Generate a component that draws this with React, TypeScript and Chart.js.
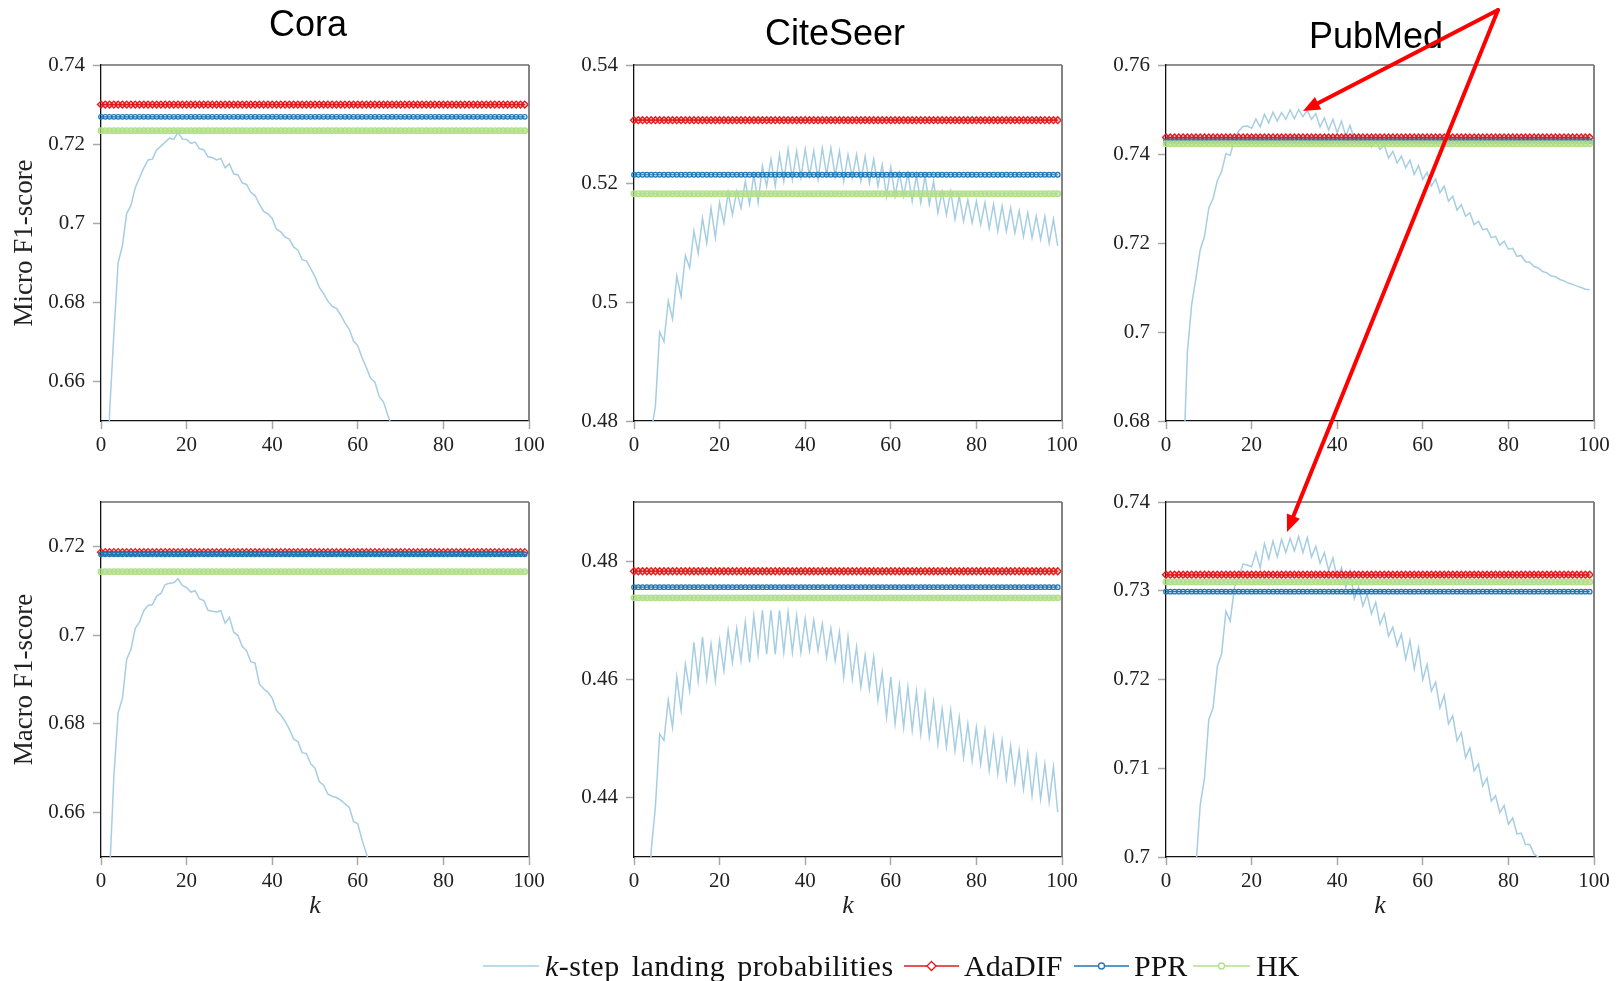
import React, { useEffect, useRef } from "react";
import { Chart, registerables } from "chart.js";

Chart.register(...registerables);

// ---------------- data ----------------
const K_STEPS: number[] = Array.from({ length: 100 }, (_, i) => i); // k = 0..99
const X_TICKS = [0, 20, 40, 60, 80, 100];

const DATASET_NAMES = ["Cora", "CiteSeer", "PubMed"];
const METRIC_NAMES = ["Micro F1-score", "Macro F1-score"];
const X_TITLE = "k";
const LEGEND_LABELS = ["-step landing probabilities", "AdaDIF", "PPR", "HK"];

const Y_RANGE_MICRO = [[0.65, 0.74], [0.48, 0.54], [0.68, 0.76]];
const Y_RANGE_MACRO = [[0.65, 0.73], [0.43, 0.49], [0.70, 0.74]];
const Y_TICKS_MICRO = [
  [0.66, 0.68, 0.70, 0.72, 0.74],
  [0.48, 0.50, 0.52, 0.54],
  [0.68, 0.70, 0.72, 0.74, 0.76],
];
const Y_TICKS_MACRO = [
  [0.66, 0.68, 0.70, 0.72],
  [0.44, 0.46, 0.48],
  [0.70, 0.71, 0.72, 0.73, 0.74],
];

// constant baselines (Cora, CiteSeer, PubMed)
const ADADIF_MICRO = [0.7300, 0.5307, 0.7437];
const PPR_MICRO = [0.7269, 0.5215, 0.7429];
const HK_MICRO = [0.7234, 0.5183, 0.7423];
const ADADIF_MACRO = [0.7187, 0.4783, 0.7318];
const PPR_MACRO = [0.7182, 0.4756, 0.7299];
const HK_MACRO = [0.7143, 0.4738, 0.7310];

// k-step landing probabilities, index = k
const CORA_MICRO = [
  null, 0.60, 0.652, 0.672, 0.690, 0.6943, 0.7025, 0.7045, 0.709, 0.7115,
  0.714, 0.716, 0.7162, 0.7185, 0.7195, 0.7205, 0.7215, 0.7212, 0.723, 0.7213,
  0.7212, 0.7202, 0.7205, 0.7188, 0.7186, 0.7168, 0.7166, 0.716, 0.7164, 0.714,
  0.715, 0.7125, 0.7122, 0.7102, 0.7098, 0.7078, 0.707, 0.7048, 0.703, 0.7024,
  0.7012, 0.6985, 0.6978, 0.6965, 0.696, 0.694, 0.6932, 0.6908, 0.6905, 0.6885,
  0.6865, 0.6838, 0.6822, 0.6803, 0.679, 0.6785, 0.6768, 0.6748, 0.6732, 0.6702,
  0.669, 0.666, 0.6635, 0.6608, 0.6598, 0.6562, 0.6548, 0.6515, 0.6485, 0.646,
];
const CITESEER_MICRO = [
  null, null, null, 0.455, 0.478, 0.4825, 0.495, 0.4934, 0.5002, 0.4972,
  0.5044, 0.501, 0.5079, 0.5058, 0.512, 0.5083, 0.5142, 0.510, 0.5159, 0.5109,
  0.5168, 0.5134, 0.5185, 0.5148, 0.5187, 0.5159, 0.5204, 0.5165, 0.5215, 0.5168,
  0.523, 0.5196, 0.5241, 0.5196, 0.5249, 0.5204, 0.5258, 0.5207, 0.5255, 0.521,
  0.5258, 0.5213, 0.5255, 0.5207, 0.526, 0.5215, 0.526, 0.5213, 0.5255, 0.5204,
  0.5249, 0.521, 0.5249, 0.5204, 0.5246, 0.5201, 0.5241, 0.5196, 0.5232, 0.5179,
  0.5228, 0.5179, 0.5218, 0.5179, 0.5218, 0.517, 0.5214, 0.5168, 0.5213, 0.5165,
  0.5204, 0.5151, 0.5187, 0.5148, 0.5187, 0.514, 0.5179, 0.5137, 0.5173, 0.5134,
  0.517, 0.5131, 0.5168, 0.5125, 0.5165, 0.512, 0.5162, 0.512, 0.5159, 0.5117,
  0.5154, 0.5111, 0.5151, 0.5109, 0.5145, 0.5106, 0.5145, 0.510, 0.514, 0.5095,
];
const PUBMED_MICRO = [
  null, null, null, 0.63, 0.668, 0.6955, 0.7062, 0.7121, 0.7185, 0.7215,
  0.7279, 0.730, 0.734, 0.7361, 0.7401, 0.7397, 0.7433, 0.7452, 0.7462, 0.7463,
  0.7458, 0.7479, 0.7461, 0.7489, 0.747, 0.7494, 0.7474, 0.7493, 0.7478, 0.7499,
  0.7479, 0.750, 0.7484, 0.7498, 0.7478, 0.7491, 0.7461, 0.7481, 0.7454, 0.7478,
  0.7448, 0.7474, 0.744, 0.7464, 0.7433, 0.7444, 0.7428, 0.7433, 0.7416, 0.7429,
  0.741, 0.742, 0.7391, 0.7406, 0.738, 0.7395, 0.7369, 0.7386, 0.7354, 0.7374,
  0.7343, 0.7359, 0.7328, 0.7344, 0.7313, 0.7328, 0.7294, 0.7305, 0.7274, 0.7286,
  0.726, 0.7268, 0.7241, 0.7249, 0.723, 0.7232, 0.7212, 0.7215, 0.7195, 0.7204,
  0.7186, 0.7188, 0.717, 0.7172, 0.7158, 0.7157, 0.7147, 0.7144, 0.7136, 0.7133,
  0.7126, 0.7124, 0.7118, 0.7115, 0.711, 0.7107, 0.7103, 0.710, 0.7096, 0.7095,
];
const CORA_MACRO = [
  null, 0.58, 0.646, 0.668, 0.6825, 0.6857, 0.6945, 0.6968, 0.7015, 0.703,
  0.7055, 0.7067, 0.7069, 0.7088, 0.7094, 0.7114, 0.7117, 0.7118, 0.7127, 0.7112,
  0.7107, 0.7097, 0.710, 0.7082, 0.7078, 0.7056, 0.7054, 0.7052, 0.7055, 0.7027,
  0.704, 0.7007, 0.6999, 0.6975, 0.6965, 0.694, 0.6937, 0.689, 0.6879, 0.6871,
  0.6858, 0.683, 0.682, 0.6806, 0.6788, 0.6766, 0.676, 0.6735, 0.6733, 0.671,
  0.670, 0.667, 0.6662, 0.6642, 0.6637, 0.6634, 0.6628, 0.662, 0.6612, 0.658,
  0.6575, 0.6538, 0.6508, 0.6475, 0.645,
];
const CITESEER_MACRO = [
  null, null, null, 0.41, 0.431, 0.4385, 0.4508, 0.4497, 0.4565, 0.4519,
  0.4604, 0.4548, 0.4626, 0.4581, 0.4663, 0.4598, 0.4672, 0.4601, 0.466, 0.4598,
  0.4666, 0.4615, 0.4683, 0.4629, 0.4686, 0.4632, 0.4697, 0.4629, 0.4708, 0.4643,
  0.4717, 0.4643, 0.4717, 0.4643, 0.4717, 0.4646, 0.4714, 0.4646, 0.4708, 0.4646,
  0.4703, 0.4649, 0.470, 0.4649, 0.4694, 0.4638, 0.4686, 0.4632, 0.468, 0.4604,
  0.4672, 0.4601, 0.4655, 0.4587, 0.4641, 0.4584, 0.4638, 0.4565, 0.4612, 0.4536,
  0.4604, 0.4525, 0.459, 0.4519, 0.4587, 0.4514, 0.4579, 0.4508, 0.4576, 0.4503,
  0.4562, 0.4491, 0.455, 0.4486, 0.4548, 0.448, 0.4536, 0.4469, 0.4525, 0.4463,
  0.4519, 0.4457, 0.4514, 0.4446, 0.4503, 0.4441, 0.4497, 0.4432, 0.4488, 0.4426,
  0.448, 0.4415, 0.4474, 0.4404, 0.4469, 0.4398, 0.4457, 0.4393, 0.4452, 0.4376,
];
const PUBMED_MACRO = [
  null, null, null, null, null, null, 0.68, 0.699, 0.7059, 0.7089,
  0.7155, 0.7168, 0.7215, 0.7229, 0.7277, 0.7266, 0.7304, 0.7315, 0.733, 0.7329,
  0.7327, 0.7343, 0.7326, 0.7353, 0.7336, 0.7356, 0.7338, 0.7358, 0.7343, 0.7359,
  0.7345, 0.7361, 0.7343, 0.736, 0.7338, 0.735, 0.7331, 0.7343, 0.7323, 0.7337,
  0.7313, 0.7326, 0.7304, 0.7322, 0.7291, 0.7304, 0.7283, 0.7296, 0.7274, 0.7287,
  0.7262, 0.7274, 0.7249, 0.7259, 0.7238, 0.7251, 0.7223, 0.7244, 0.7212, 0.7236,
  0.720, 0.7217, 0.7187, 0.7197, 0.7168, 0.7182, 0.715, 0.7159, 0.7131, 0.714,
  0.7112, 0.7123, 0.7097, 0.7105, 0.708, 0.7089, 0.7063, 0.7069, 0.705, 0.7058,
  0.7037, 0.7044, 0.7026, 0.7027, 0.7014, 0.7014, 0.7003, 0.700, 0.6995, 0.699,
];

const KSTEP_MICRO = [CORA_MICRO, CITESEER_MICRO, PUBMED_MICRO];
const KSTEP_MACRO = [CORA_MACRO, CITESEER_MACRO, PUBMED_MACRO];

// ---------------- styling / layout ----------------
const LIGHT_BLUE = "#a6cee3";
const RED = "#e31a1c";
const BLUE = "#1f78b4";
const GREEN = "#b2df8a";
const ARROW_RED = "#ff0000";
const SERIF = "'Liberation Serif', 'Times New Roman', serif";
const SANS = "'Liberation Sans', Arial, sans-serif";

const PLOT_LEFT = [101, 634, 1166];
const PLOT_W = 428;
const PLOT_TOP = [65, 502];
const PLOT_H = [356, 355];
const AXIS_W = 101;
const PAD_T = 30;
const PAD_R = 30;
const XAXIS_H = 65;

const framePlugin = {
  id: "frame",
  afterDraw(chart: any) {
    const { ctx, chartArea } = chart;
    const { left, top, right, bottom } = chartArea;
    ctx.save();
    ctx.strokeStyle = "#222";
    ctx.lineWidth = 1.2;
    ctx.beginPath();
    ctx.moveTo(left, top);
    ctx.lineTo(right, top);
    ctx.stroke();
    ctx.strokeStyle = "#777";
    ctx.lineWidth = 1.8;
    ctx.beginPath();
    ctx.moveTo(right, top);
    ctx.lineTo(right, bottom);
    ctx.stroke();
    ctx.restore();
  },
};

function fmt(v: number) {
  return String(Math.round(v * 100) / 100);
}

function flatSeries(
  value: number,
  color: string,
  fill: string,
  style: string,
  radius: number,
  pbw: number,
  order: number
) {
  return {
    data: K_STEPS.map((k) => ({ x: k, y: value })),
    borderColor: color,
    borderWidth: 1.2,
    pointStyle: style,
    pointRadius: radius,
    pointBorderWidth: pbw,
    pointBorderColor: color,
    pointBackgroundColor: fill,
    order,
    clip: false,
  };
}

function Panel({ row, col }: { row: number; col: number }) {
  const ref = useRef<HTMLCanvasElement | null>(null);
  const left = PLOT_LEFT[col] - AXIS_W;
  const top = PLOT_TOP[row] - PAD_T;
  const width = AXIS_W + PLOT_W + PAD_R;
  const height = PAD_T + PLOT_H[row] + XAXIS_H;

  useEffect(() => {
    const canvas = ref.current;
    if (!canvas) return;
    const micro = row === 0;
    const curve = (micro ? KSTEP_MICRO : KSTEP_MACRO)[col];
    const range = (micro ? Y_RANGE_MICRO : Y_RANGE_MACRO)[col];
    const yTicks = (micro ? Y_TICKS_MICRO : Y_TICKS_MACRO)[col];
    const ada = (micro ? ADADIF_MICRO : ADADIF_MACRO)[col];
    const ppr = (micro ? PPR_MICRO : PPR_MACRO)[col];
    const hk = (micro ? HK_MICRO : HK_MACRO)[col];

    const kPoints = curve
      .map((v, k) => ({ x: K_STEPS[k], y: v }))
      .filter((p) => p.y !== null);

    const chart = new Chart(canvas, {
      type: "line",
      data: {
        datasets: [
          {
            label: "k-step",
            data: kPoints as any,
            borderColor: LIGHT_BLUE,
            borderWidth: 1.5,
            pointRadius: 0,
            tension: 0,
            order: 4,
          },
          { label: "AdaDIF", ...flatSeries(ada, RED, "rgba(227,26,28,0.28)", "rectRot", 3.5, 1.3, 3) } as any,
          { label: "PPR", ...flatSeries(ppr, BLUE, "rgba(31,120,180,0.15)", "circle", 2.3, 1.2, 2) } as any,
          { label: "HK", ...flatSeries(hk, GREEN, "rgba(178,223,138,0.7)", "circle", 2.8, 1.3, 1) } as any,
        ],
      },
      options: {
        responsive: false,
        animation: false,
        devicePixelRatio: 1,
        events: [],
        layout: { padding: { left: 0, top: PAD_T, right: PAD_R, bottom: 0 } },
        plugins: { legend: { display: false }, tooltip: { enabled: false }, title: { display: false } },
        scales: {
          x: {
            type: "linear",
            min: 0,
            max: 100,
            afterFit: (s: any) => {
              s.height = XAXIS_H;
            },
            afterBuildTicks: (s: any) => {
              s.ticks = X_TICKS.map((v) => ({ value: v }));
            },
            border: { display: true, color: "#111", width: 1.3 },
            grid: {
              display: true,
              drawOnChartArea: false,
              drawTicks: true,
              tickLength: 8,
              tickColor: "#a8a8a8",
              tickWidth: 1.5,
            },
            ticks: {
              color: "#222",
              font: { family: SERIF, size: 21 },
              padding: 4,
              maxRotation: 0,
              autoSkip: false,
              callback: (v: any) => String(v),
            },
            title: {
              display: row === 1,
              text: X_TITLE,
              color: "#222",
              font: { family: SERIF, size: 26, style: "italic" },
              padding: { top: 0, bottom: 0 },
            },
          },
          y: {
            type: "linear",
            min: range[0],
            max: range[1],
            afterFit: (s: any) => {
              s.width = AXIS_W;
            },
            afterBuildTicks: (s: any) => {
              s.ticks = yTicks.map((v) => ({ value: v }));
            },
            border: { display: true, color: "#111", width: 1.3 },
            grid: {
              display: true,
              drawOnChartArea: false,
              drawTicks: true,
              tickLength: 8,
              tickColor: "#a8a8a8",
              tickWidth: 1.5,
            },
            ticks: {
              color: "#222",
              font: { family: SERIF, size: 21 },
              padding: 8,
              autoSkip: false,
              callback: (v: any) => fmt(Number(v)),
            },
            title: {
              display: col === 0,
              text: METRIC_NAMES[row],
              color: "#222",
              font: { family: SERIF, size: 27 },
              padding: { top: 9, bottom: 0 },
            },
          },
        },
      } as any,
      plugins: [framePlugin],
    });
    return () => chart.destroy();
  }, [row, col]);

  return (
    <canvas
      ref={ref}
      width={width}
      height={height}
      style={{ position: "absolute", left, top, width, height }}
    />
  );
}

function arrowHead(x1: number, y1: number, x2: number, y2: number, len: number, half: number) {
  const dx = x2 - x1;
  const dy = y2 - y1;
  const d = Math.hypot(dx, dy);
  const ux = dx / d;
  const uy = dy / d;
  const bx = x2 - ux * len;
  const by = y2 - uy * len;
  const pts = [
    [x2, y2],
    [bx - uy * half, by + ux * half],
    [bx + uy * half, by - ux * half],
  ];
  return { points: pts.map((p) => p.join(",")).join(" "), bx: x2 - ux * len * 0.6, by: y2 - uy * len * 0.6 };
}

const ARROW_START = [1498, 10];
const ARROW_TIPS = [
  [1303, 111],
  [1287, 532],
];
const TITLE_POS = [
  [308, 36],
  [835, 44.5],
  [1376, 48.3],
];

export default function App() {
  const rows = [0, 1];
  const cols = [0, 1, 2];
  const legendY = 966;
  return (
    <div
      style={{
        position: "absolute",
        left: 0,
        top: 0,
        width: 1620,
        height: 981,
        overflow: "hidden",
        background: "#ffffff",
      }}
    >
      {rows.map((r) => cols.map((c) => <Panel key={`${r}-${c}`} row={r} col={c} />))}
      <svg
        width={1620}
        height={981}
        style={{ position: "absolute", left: 0, top: 0, pointerEvents: "none" }}
      >
        {DATASET_NAMES.map((name, i) => (
          <text
            key={name}
            x={TITLE_POS[i][0]}
            y={TITLE_POS[i][1]}
            textAnchor="middle"
            fontFamily={SANS}
            fontSize={36}
            fill="#000"
          >
            {name}
          </text>
        ))}
        {ARROW_TIPS.map(([tx, ty], i) => {
          const h = arrowHead(ARROW_START[0], ARROW_START[1], tx, ty, 17, 7);
          return (
            <g key={i}>
              <line
                x1={ARROW_START[0]}
                y1={ARROW_START[1]}
                x2={h.bx}
                y2={h.by}
                stroke={ARROW_RED}
                strokeWidth={4}
                strokeLinecap="round"
              />
              <polygon points={h.points} fill={ARROW_RED} />
            </g>
          );
        })}
        {/* legend */}
        <line x1={483} y1={legendY} x2={539} y2={legendY} stroke={LIGHT_BLUE} strokeWidth={1.6} />
        <text x={545} y={976} fontFamily={SERIF} fontSize={30} fill="#111" wordSpacing={4} letterSpacing={0.5}>
          <tspan fontStyle="italic">k</tspan>
          {LEGEND_LABELS[0]}
        </text>
        <line x1={904} y1={legendY} x2={959} y2={legendY} stroke={RED} strokeWidth={1.6} />
        <polygon
          points={`931.5,${legendY - 4.5} 936,${legendY} 931.5,${legendY + 4.5} 927,${legendY}`}
          fill="#fff"
          stroke={RED}
          strokeWidth={1.4}
        />
        <text x={964} y={976} fontFamily={SERIF} fontSize={30} fill="#111">
          {LEGEND_LABELS[1]}
        </text>
        <line x1={1074} y1={legendY} x2={1129} y2={legendY} stroke={BLUE} strokeWidth={1.6} />
        <circle cx={1101.5} cy={legendY} r={3} fill="#fff" stroke={BLUE} strokeWidth={1.3} />
        <text x={1134} y={976} fontFamily={SERIF} fontSize={30} fill="#111">
          {LEGEND_LABELS[2]}
        </text>
        <line x1={1193} y1={legendY} x2={1250} y2={legendY} stroke={GREEN} strokeWidth={1.6} />
        <circle cx={1221.5} cy={legendY} r={3} fill="#fff" stroke={GREEN} strokeWidth={1.3} />
        <text x={1256} y={976} fontFamily={SERIF} fontSize={30} fill="#111">
          {LEGEND_LABELS[3]}
        </text>
      </svg>
    </div>
  );
}
